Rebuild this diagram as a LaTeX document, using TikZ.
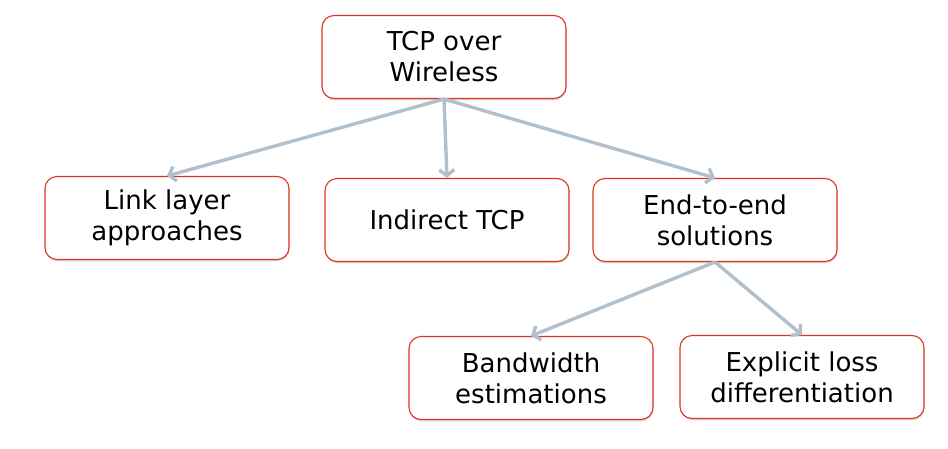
\documentclass[tikz,border=0pt]{standalone}
\usepackage{fontspec}
\setmainfont{DejaVu Sans}
\usetikzlibrary{arrows.meta,shadows}
\definecolor{boxred}{RGB}{222,52,28}
\definecolor{arrowgrey}{RGB}{178,192,204}
\begin{document}
\begin{tikzpicture}[x=1pt,y=-1pt,
  topic/.style={draw=boxred,line width=1.1pt,fill=white,rounded corners=12pt,
    minimum width=244pt,minimum height=83pt,align=center,
    font=\fontsize{26}{31}\selectfont,
    drop shadow={shadow xshift=0.6pt,shadow yshift=-1.8pt,opacity=0.3}},
  branch/.style={arrowgrey,line width=3.4pt,-{Straight Barb[length=6pt,width=15pt]}}]
\useasboundingbox (0,0) rectangle (948,448);

\node[topic] (tcp) at (444,57) {TCP over\\Wireless};
\node[topic] (link) at (167,218) {Link layer\\approaches};
\node[topic] (indirect) at (447,220) {Indirect TCP};
\node[topic] (endend) at (715,220) {End-to-end\\solutions};
\node[topic] (bw) at (531,378) {Bandwidth\\estimations};
\node[topic] (eld) at (802,377) {Explicit loss\\differentiation};

\draw[branch] (tcp.south) -- (link.north);
\draw[branch] (tcp.south) -- (indirect.north);
\draw[branch] (tcp.south) -- (endend.north);
\draw[branch] (endend.south) -- (bw.north);
\draw[branch] (endend.south) -- (eld.north);
\end{tikzpicture}
\end{document}
